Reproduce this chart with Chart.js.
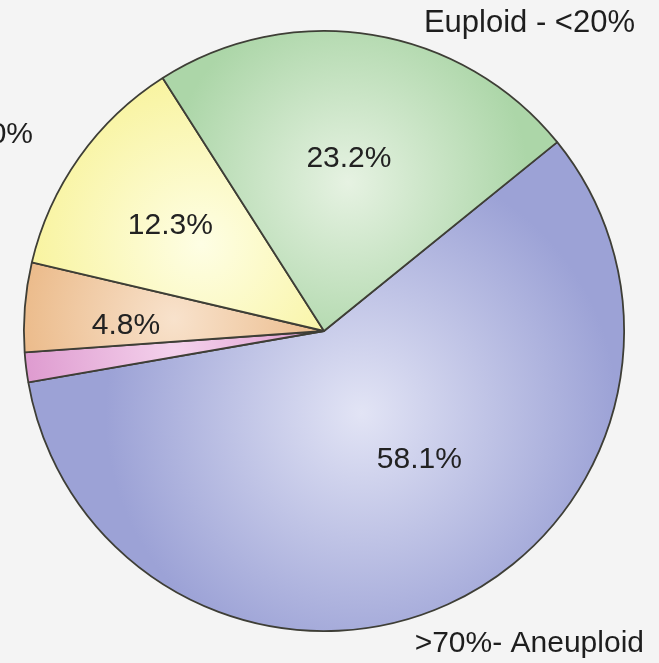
<!DOCTYPE html>
<html>
<head>
<meta charset="utf-8">
<script src="https://cdn.jsdelivr.net/npm/chart.js@4.4.1/dist/chart.umd.min.js"></script>
<style>
  html, body { margin: 0; padding: 0; background: #f4f4f4; }
  #wrap { width: 659px; height: 663px; position: relative; }
</style>
</head>
<body>
<div id="wrap"><canvas id="c" width="659" height="663"></canvas></div>
<script>
// ---- data ----
const categories = ['>70% - Aneuploid', '40-70% (pink)', '20-40% (orange)', '20-40% Mosaic', 'Euploid - <20%'];
const values = [58.1, 1.6, 4.8, 12.3, 23.2];
const valueLabels = ['58.1%', '', '4.8%', '12.3%', '23.2%'];
const baseColors = ['#9ca2d6', '#da90ca', '#e9b47f', '#f8f39c', '#acd6a8'];
const lightColors = ['#e2e4f5', '#f4d2ec', '#f8e2cc', '#fefee4', '#e6f2e2'];

const ROTATION = 51;

function sliceGradient(ctx) {
  const chart = ctx.chart;
  const area = chart.chartArea;
  const i = ctx.dataIndex;
  if (!area) return baseColors[i];
  const cx = (area.left + area.right) / 2;
  const cy = (area.top + area.bottom) / 2;
  const r = Math.min(area.right - area.left, area.bottom - area.top) / 2;
  const total = values.reduce((a, b) => a + b, 0);
  let before = 0;
  for (let k = 0; k < i; k++) before += values[k];
  const midDeg = ROTATION + (before + values[i] / 2) / total * 360;
  const a = midDeg * Math.PI / 180;
  const d = i === 0 ? 0.3 * r : 0.5 * r;
  const hx = cx + Math.sin(a) * d;
  const hy = cy - Math.cos(a) * d;
  const g = chart.ctx.createRadialGradient(hx, hy, 0, hx, hy, i === 0 ? 0.85 * r : 0.6 * r);
  g.addColorStop(0, lightColors[i]);
  g.addColorStop(1, baseColors[i]);
  return g;
}

const textPlugin = {
  id: 'texts',
  afterDatasetsDraw(chart, args, opts) {
    const ctx = chart.ctx;
    const meta = chart.getDatasetMeta(0);
    ctx.save();
    ctx.fillStyle = '#222';
    ctx.font = '30px "Liberation Sans", Arial, sans-serif';
    ctx.textAlign = 'center';
    ctx.textBaseline = 'middle';
    meta.data.forEach((arc, i) => {
      if (!valueLabels[i]) return;
      const p = arc.getProps(['x', 'y', 'startAngle', 'endAngle', 'outerRadius'], true);
      const tweak = opts.pos[i] || [0, 0.6];
      const mid = (p.startAngle + p.endAngle) / 2 + tweak[0] * Math.PI / 180;
      const rr = p.outerRadius * tweak[1];
      ctx.fillText(valueLabels[i], p.x + Math.cos(mid) * rr, p.y + Math.sin(mid) * rr);
    });
    // outer labels
    ctx.textBaseline = 'alphabetic';
    ctx.textAlign = 'right';
    ctx.fillStyle = '#1e1e1e';
    ctx.font = '31px "Liberation Sans", Arial, sans-serif';
    ctx.fillText(categories[4], 635, 32);
    ctx.font = '30px "Liberation Sans", Arial, sans-serif';
    ctx.fillText('>70%- Aneuploid', 644, 652);
    ctx.fillText('Mosaic - 40-70%', 33, 143);
    ctx.restore();
  }
};

new Chart(document.getElementById('c'), {
  type: 'pie',
  data: {
    labels: categories,
    datasets: [{
      data: values,
      backgroundColor: sliceGradient,
      borderColor: '#3e3e36',
      borderWidth: 1.8
    }]
  },
  options: {
    responsive: false,
    animation: false,
    rotation: ROTATION,
    layout: { padding: { left: 23, right: 34, top: 30, bottom: 31 } },
    plugins: {
      legend: { display: false },
      tooltip: { enabled: false },
      texts: { pos: { 0: [-12, 0.535], 2: [-3, 0.66], 3: [-1, 0.62], 4: [-1, 0.58] } }
    }
  },
  plugins: [textPlugin]
});
</script>
</body>
</html>
